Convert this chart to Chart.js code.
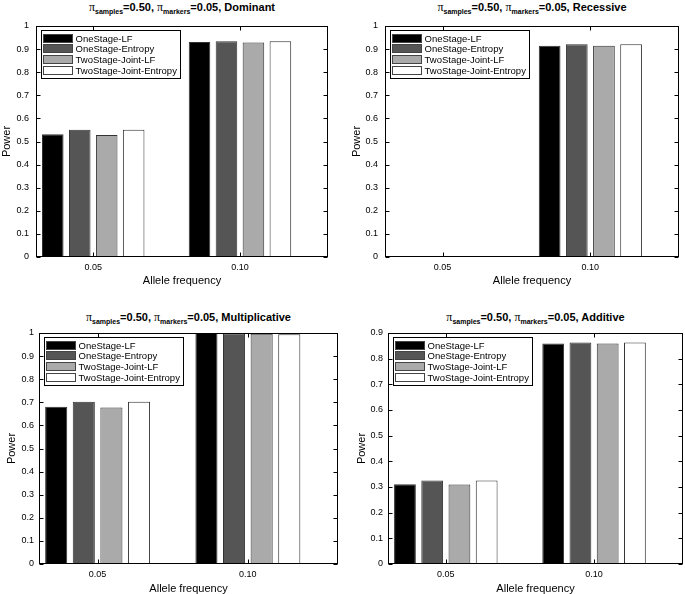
<!DOCTYPE html>
<html>
<head>
<meta charset="utf-8">
<script src="https://cdn.jsdelivr.net/npm/chart.js@4/dist/chart.umd.min.js"></script>
<style>
  body { margin: 0; background: #fff; }
  #wrap { position: relative; width: 685px; height: 594px; overflow: hidden; font-family: "Liberation Sans", Arial, sans-serif; }
  #wrap canvas { position: absolute; }
  .ttl { position: absolute; font-weight: bold; font-size: 11px; white-space: nowrap; transform: translateX(-50%); color: #000; -webkit-font-smoothing: antialiased; }
  .ttl sub { font-size: 7px; vertical-align: -3px; }
  .pi { font-family: "Liberation Serif", serif; font-weight: normal; font-size: 12px; }
</style>
</head>
<body>
<div id="wrap"></div>
<script>
// data
const freqLabels = ["0.05", "0.10"];
const methods = ["OneStage-LF", "OneStage-Entropy", "TwoStage-Joint-LF", "TwoStage-Joint-Entropy"];
const fills = ["#000000", "#555555", "#aaaaaa", "#ffffff"];

// one row per method, one value per allele frequency
const dominantPower = [[0.531, 0.931], [0.551, 0.934], [0.528, 0.929], [0.551, 0.934]];
const recessivePower = [[0.004, 0.915], [0.004, 0.921], [0.004, 0.915], [0.004, 0.921]];
const multiplicativePower = [[0.681, 1.0], [0.702, 0.998], [0.678, 0.997], [0.702, 0.995]];
const additivePower = [[0.311, 0.859], [0.325, 0.863], [0.310, 0.859], [0.325, 0.863]];

const yTicksFull = [0, 0.1, 0.2, 0.3, 0.4, 0.5, 0.6, 0.7, 0.8, 0.9, 1];
const yTicksShort = [0, 0.1, 0.2, 0.3, 0.4, 0.5, 0.6, 0.7, 0.8, 0.9];

// layout of the 2x2 grid (canvas box and plot area in page pixels)
const panels = [
  { model: "Dominant", values: dominantPower, yTicks: yTicksFull,
    canvas: [0, 0, 340, 294], plot: [36, 26, 328, 257], titleTop: 0, yTitlePad: 0, yTickPad: 7, xTitlePad: 6 },
  { model: "Recessive", values: recessivePower, yTicks: yTicksFull,
    canvas: [340, 0, 345, 294], plot: [385, 26, 679, 257], titleTop: 0, yTitlePad: 10, yTickPad: 7, xTitlePad: 6 },
  { model: "Multiplicative", values: multiplicativePower, yTicks: yTicksFull,
    canvas: [0, 295, 340, 299], plot: [39, 333, 338, 564], titleTop: 310, yTitlePad: 5, yTickPad: 5, xTitlePad: -2 },
  { model: "Additive", values: additivePower, yTicks: yTicksShort,
    canvas: [340, 295, 345, 299], plot: [388, 333, 683, 564], titleTop: 310, yTitlePad: 15, yTickPad: 5, xTitlePad: -2 }
];

const FONT = "'Liberation Sans', Arial, sans-serif";

// MATLAB-style box with inward tick marks
const matlabFrame = {
  id: "matlabFrame",
  afterDatasetsDraw(chart) {
    const { ctx, chartArea: a, scales: { x, y } } = chart;
    const L = Math.round(a.left) + 0.5, R = Math.round(a.right) - 0.5;
    const T = Math.round(a.top) + 0.5, B = Math.round(a.bottom) - 0.5;
    ctx.save();
    ctx.strokeStyle = "#000";
    ctx.lineWidth = 1;
    ctx.beginPath();
    y.ticks.forEach(t => {
      const py = Math.round(y.getPixelForValue(t.value)) + 0.5;
      ctx.moveTo(L, py); ctx.lineTo(L + 4, py);
      ctx.moveTo(R, py); ctx.lineTo(R - 4, py);
    });
    x.ticks.forEach(t => {
      const px = Math.round(x.getPixelForValue(t.value)) + 0.5;
      ctx.moveTo(px, B); ctx.lineTo(px, B - 4);
      ctx.moveTo(px, T); ctx.lineTo(px, T + 4);
    });
    ctx.stroke();
    ctx.strokeRect(L, T, R - L, B - T);
    ctx.restore();
  }
};

// legend box in the upper left corner of the axes
const cornerLegend = {
  id: "cornerLegend",
  afterDraw(chart) {
    const { ctx, chartArea: a } = chart;
    const x0 = Math.round(a.left) + 5.5, y0 = Math.round(a.top) + 4.5;
    const w = 139, h = 48;
    ctx.save();
    ctx.fillStyle = "#fff";
    ctx.fillRect(x0, y0, w, h);
    ctx.strokeStyle = "#000";
    ctx.lineWidth = 1;
    ctx.strokeRect(x0, y0, w, h);
    ctx.font = "9.5px " + FONT;
    ctx.textBaseline = "middle";
    chart.data.datasets.forEach((ds, i) => {
      const ry = Math.round(y0 + 3 + i * 10.9) + 0.5;
      ctx.fillStyle = ds.backgroundColor;
      ctx.fillRect(x0 + 2, ry, 29, 8);
      ctx.strokeStyle = "#444";
      ctx.strokeRect(x0 + 2, ry, 29, 8);
      ctx.fillStyle = "#000";
      ctx.fillText(ds.label, x0 + 34, ry + 4.5);
    });
    ctx.restore();
  }
};

const wrap = document.getElementById("wrap");

panels.forEach(p => {
  const [cx, cy, cw, ch] = p.canvas;
  const [pl, pt, pr, pb] = p.plot;

  const title = document.createElement("div");
  title.className = "ttl";
  title.style.left = ((pl + pr) / 2) + "px";
  title.style.top = p.titleTop + "px";
  title.innerHTML = '<span class="pi">\u03c0</span><sub>samples</sub>=0.50, <span class="pi">\u03c0</span><sub>markers</sub>=0.05, ' + p.model;
  wrap.appendChild(title);

  const canvas = document.createElement("canvas");
  canvas.style.left = cx + "px";
  canvas.style.top = cy + "px";
  canvas.style.width = cw + "px";
  canvas.style.height = ch + "px";
  canvas.width = cw;
  canvas.height = ch;
  wrap.appendChild(canvas);

  const datasets = methods.map((m, i) => ({
    label: m,
    data: p.values[i].map((v, j) => ({ x: j + 1, y: v })),
    backgroundColor: fills[i],
    borderColor: "#333",
    borderWidth: 1,
    borderSkipped: false,
    categoryPercentage: 0.735,
    barPercentage: 0.8
  }));

  const yMax = p.yTicks[p.yTicks.length - 1];

  new Chart(canvas, {
    type: "bar",
    data: { datasets },
    options: {
      responsive: false,
      animation: false,
      events: [],
      layout: { padding: { left: 0, top: pt - cy, right: cx + cw - pr, bottom: 0 } },
      plugins: { legend: { display: false }, tooltip: { enabled: false }, title: { display: false } },
      scales: {
        x: {
          type: "linear",
          min: 0.61,
          max: 2.6,
          offset: false,
          grid: { display: false, drawTicks: false, offset: false },
          border: { display: false },
          afterBuildTicks: s => { s.ticks = freqLabels.map((f, i) => ({ value: i + 1 })); },
          afterFit: s => { s.height = cy + ch - pb; },
          ticks: {
            padding: 5,
            color: "#000",
            font: { family: FONT, size: 9 },
            callback: v => freqLabels[Math.round(v) - 1]
          },
          title: {
            display: true,
            text: "Allele frequency",
            color: "#000",
            font: { family: FONT, size: 11 },
            padding: { top: 0, bottom: p.xTitlePad }
          }
        },
        y: {
          min: 0,
          max: yMax,
          grid: { display: false, drawTicks: false },
          border: { display: false },
          afterBuildTicks: s => { s.ticks = p.yTicks.map(v => ({ value: v })); },
          afterFit: s => { s.width = pl - cx; },
          ticks: {
            padding: p.yTickPad,
            color: "#000",
            font: { family: FONT, size: 9 },
            callback: v => String(+v.toFixed(1))
          },
          title: {
            display: true,
            text: "Power",
            color: "#000",
            font: { family: FONT, size: 11 },
            padding: { top: p.yTitlePad, bottom: 0 }
          }
        }
      }
    },
    plugins: [matlabFrame, cornerLegend]
  });
});
</script>
</body>
</html>
